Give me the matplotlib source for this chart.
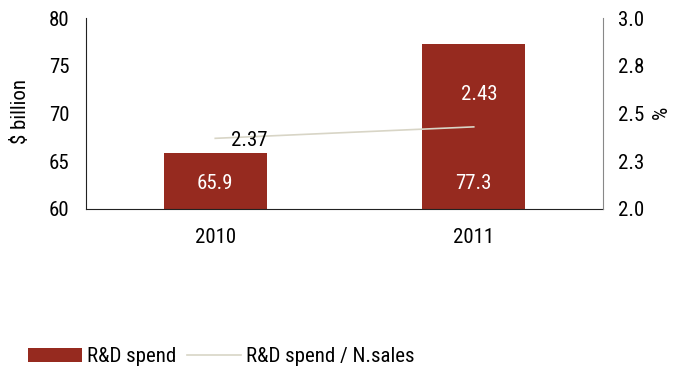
import matplotlib.pyplot as plt
from matplotlib import font_manager

# pick a condensed face if one is around
names = {f.name for f in font_manager.fontManager.ttflist}
family = "DejaVu Sans"
for cand in ["Roboto Condensed", "Liberation Sans Narrow", "Open Sans Condensed", "DejaVu Sans Condensed", "Roboto"]:
    if cand in names:
        family = cand
        break
plt.rcParams['font.family'] = [family, 'DejaVu Sans']

years = ["2010", "2011"]
spend = [65.9, 77.3]
ratio = [2.37, 2.43]
left_ticks = [60, 65, 70, 75, 80]
right_ticks = [2.0, 2.25, 2.5, 2.75, 3.0]
right_labels = ["2.0", "2.3", "2.5", "2.8", "3.0"]

bar_color = "#962A1F"
line_color = "#D8D5C6"
fs = 15

fig = plt.figure(figsize=(6.8, 3.72), dpi=100)
ax = fig.add_axes([86/680, 1 - 209/372, (603-86)/680, (209-18)/372])
x = list(range(len(years)))
bars = ax.bar(x, spend, width=0.4, color=bar_color, zorder=2)
ax.set_ylim(60, 80)
ax.set_xlim(-0.5, 1.5)
ax.set_yticks(left_ticks)
ax.set_xticks(x)
ax.set_xticklabels(years)
ax.tick_params(length=0, labelsize=fs, pad=12)
ax.tick_params(axis="x", pad=14)
for s in ["top", "right"]:
    ax.spines[s].set_visible(False)
ax.spines["left"].set_color("#222222")
ax.spines["bottom"].set_color("#222222")
for xi, v in zip(x, spend):
    ax.text(xi, 62.65, f"{v:.1f}", ha="center", va="center", color="white", fontsize=fs, zorder=4)

# axis titles placed by hand, as in the source
fig.text(20/680, 1 - 112/372, "$ billion", rotation=90, ha="center", va="center", fontsize=fs)
fig.text(661/680, 1 - 112/372, "%", rotation=90, ha="center", va="center", fontsize=fs)

ax2 = ax.twinx()
ln, = ax2.plot(x, ratio, color=line_color, lw=1.2, zorder=3)
ax2.set_ylim(2.0, 3.0)
ax2.set_yticks(right_ticks)
ax2.set_yticklabels(right_labels)
ax2.tick_params(length=0, labelsize=fs, pad=11)
for s in ["top", "left", "bottom"]:
    ax2.spines[s].set_visible(False)
ax2.spines["right"].set_color("#888888")
ax2.text(x[0] + 0.13, ratio[0] - 0.01, f"{ratio[0]:.2f}", ha="center", va="center", fontsize=fs, color="black")
ax2.text(x[1] + 0.02, ratio[1] + 0.167, f"{ratio[1]:.2f}", ha="center", va="center", fontsize=fs, color="white")

fig.legend([bars, ln], ["R&D spend", "R&D spend / N.sales"], loc="center left",
           bbox_to_anchor=(28/680, 1 - 357/372), ncol=2, frameon=False, fontsize=15,
           borderpad=0, borderaxespad=0,
           handlelength=2.6, handleheight=0.65, handletextpad=0.25, columnspacing=0.5)

fig.savefig("out.png", dpi=100)
